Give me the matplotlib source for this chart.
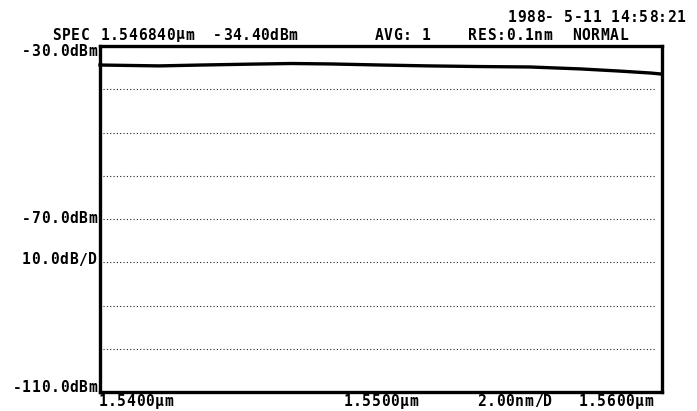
import matplotlib
matplotlib.use("Agg")
import matplotlib.pyplot as plt

# Spectrum trace (wavelength in µm, level in dBm)
wavelength_um = [1.5400, 1.5421, 1.5436, 1.5453, 1.5468, 1.5482, 1.5500,
                 1.5517, 1.5535, 1.5553, 1.5571, 1.5585, 1.5596, 1.5600]
level_dbm = [-34.4, -34.6, -34.4, -34.2, -34.05, -34.15, -34.4,
             -34.6, -34.75, -34.85, -35.3, -35.8, -36.25, -36.5]

y_min, y_max = -110.0, -30.0
x_min, x_max = 1.5400, 1.5600
grid_levels = [-40, -50, -60, -70, -80, -90, -100]

header_spec = "SPEC"
header_marker_wl = "1.546840\u00b5m"
header_marker_lv = "-34.40dBm"
header_avg = "AVG: 1"
header_res = "RES:0.1nm"
header_mode = "NORMAL"
header_date = "1988- 5-11 14:58:21"
left_labels = ["-30.0dBm", "-70.0dBm", "10.0dB/D", "-110.0dBm"]
bottom_labels = ["1.5400\u00b5m", "1.5500\u00b5m", "2.00nm/D", "1.5600\u00b5m"]

W, H = 697, 411
fig = plt.figure(figsize=(W / 100, H / 100), dpi=100)
ax = fig.add_axes([100 / W, 1 - 392 / H, (662 - 100) / W, (392 - 46) / H])
ax.set_xlim(x_min, x_max)
ax.set_ylim(y_min, y_max)
for s in ax.spines.values():
    s.set_linewidth(2.4)
    s.set_color("black")
ax.set_xticks([])
ax.set_yticks([])

for g in grid_levels:
    ax.axhline(g, xmin=0.005, xmax=0.99, color="#222222", lw=0.8,
               linestyle=(0, (1, 2.0)))

ax.plot(wavelength_um, level_dbm, color="black", lw=2.4, clip_on=False)

font = dict(family="DejaVu Sans Mono", fontweight="bold", fontsize=10.5,
            color="black")
PITCH = 9.4


def put(x, y, s, align="left", pitch=PITCH):
    """Place a string with a fixed character pitch (instrument screen look)."""
    n = len(s)
    x0 = x if align == "left" else x - n * pitch
    for i, ch in enumerate(s):
        if ch == " ":
            continue
        fig.text((x0 + (i + 0.5) * pitch) / W, 1 - y / H, ch,
                 ha="center", va="center", **font)


put(52, 35, header_spec)
put(100, 35, header_marker_wl)
put(213, 35, header_marker_lv)
put(374, 36, header_avg)
put(468, 36, header_res)
put(572, 36, header_mode)
put(686, 17, header_date, align="right")

put(97, 51, left_labels[0], align="right")
put(97, 218, left_labels[1], align="right")
put(97, 260, left_labels[2], align="right")
put(97, 387, left_labels[3], align="right")

put(98, 401, bottom_labels[0])
put(343, 401, bottom_labels[1])
put(477, 401, bottom_labels[2])
put(578, 401, bottom_labels[3])

fig.savefig("out.png", dpi=100, facecolor="white")
